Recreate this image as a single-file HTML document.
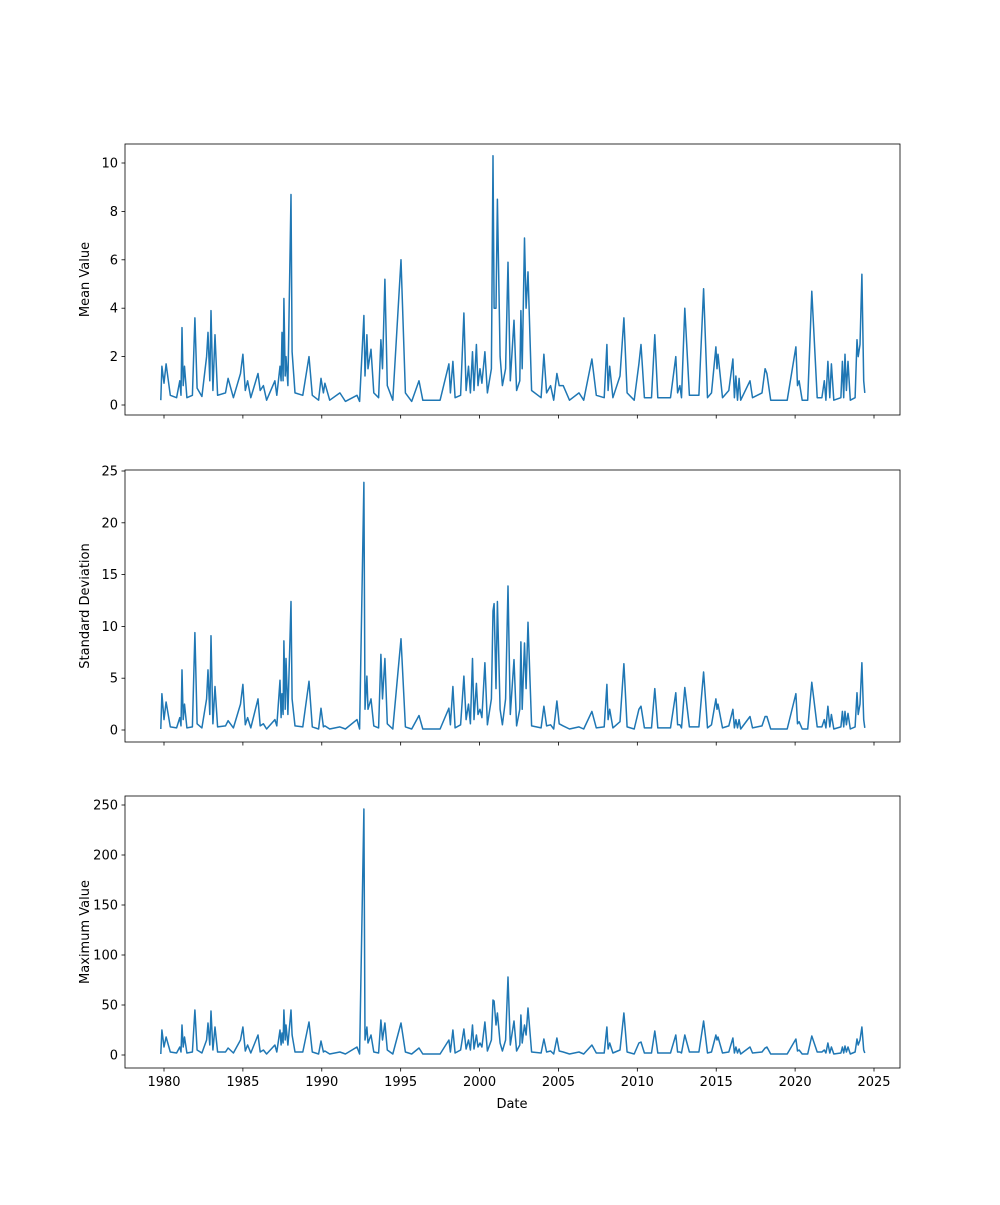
<!DOCTYPE html>
<html><head><meta charset="utf-8"><style>
body{margin:0;background:#fff;}
svg text{font-family:"DejaVu Sans","Liberation Sans",sans-serif;font-size:13px;fill:#000;}
</style></head><body>
<svg id="fig" width="1000" height="1200" xmlns="http://www.w3.org/2000/svg"></svg>
<script>
const dates=[1979.8,1979.87,1980.0,1980.13,1980.4,1980.8,1981.0,1981.08,1981.14,1981.22,1981.3,1981.45,1981.8,1981.96,1982.1,1982.4,1982.7,1982.79,1982.9,1982.98,1983.1,1983.23,1983.4,1983.9,1984.06,1984.4,1984.85,1985.0,1985.15,1985.3,1985.5,1985.96,1986.1,1986.3,1986.5,1987.03,1987.15,1987.35,1987.42,1987.48,1987.55,1987.6,1987.68,1987.73,1987.85,1988.05,1988.12,1988.3,1988.8,1989.19,1989.4,1989.8,1989.95,1990.1,1990.2,1990.5,1991.15,1991.5,1992.23,1992.4,1992.67,1992.74,1992.86,1992.93,1993.12,1993.3,1993.6,1993.75,1993.85,1994.0,1994.15,1994.5,1995.02,1995.3,1995.7,1996.16,1996.4,1997.5,1998.06,1998.15,1998.31,1998.45,1998.8,1999.01,1999.15,1999.3,1999.42,1999.55,1999.65,1999.8,1999.9,2000.03,2000.15,2000.34,2000.5,2000.75,2000.85,2000.92,2001.04,2001.13,2001.3,2001.45,2001.65,2001.8,2001.95,2002.18,2002.35,2002.55,2002.62,2002.7,2002.85,2002.95,2003.07,2003.3,2003.9,2004.08,2004.25,2004.5,2004.7,2004.9,2005.05,2005.3,2005.7,2006.3,2006.6,2007.12,2007.4,2007.9,2008.07,2008.15,2008.25,2008.45,2008.9,2009.15,2009.35,2009.8,2010.1,2010.23,2010.45,2010.9,2011.11,2011.3,2012.1,2012.44,2012.55,2012.7,2012.8,2013.01,2013.3,2013.9,2014.2,2014.45,2014.7,2014.98,2015.05,2015.11,2015.4,2015.8,2016.06,2016.15,2016.25,2016.35,2016.45,2016.55,2017.14,2017.3,2017.9,2018.1,2018.21,2018.45,2019.5,2020.05,2020.15,2020.25,2020.45,2020.8,2021.06,2021.4,2021.7,2021.85,2021.95,2022.08,2022.2,2022.3,2022.45,2022.9,2023.0,2023.08,2023.16,2023.25,2023.35,2023.5,2023.8,2023.92,2024.0,2024.11,2024.23,2024.35,2024.42];
const meanVals=[.2,1.6,.9,1.7,.4,.3,1.0,.4,3.2,.8,1.6,.3,.4,3.6,.7,.35,2.0,3.0,1.0,3.9,.6,2.9,.4,.5,1.1,.3,1.3,2.1,.6,1.0,.3,1.3,.6,.8,.2,1.0,.4,1.6,1.0,3.0,1.0,4.4,1.2,2.0,.8,8.7,2.2,.5,.4,2.0,.4,.2,1.1,.5,.9,.2,.5,.15,.4,.15,3.7,1.2,2.9,1.5,2.3,.5,.3,2.7,1.5,5.2,.8,.2,6.0,.5,.15,1.0,.2,.2,1.7,.5,1.8,.3,.4,3.8,.6,1.6,.5,2.2,.6,2.5,.8,1.5,.9,2.2,.5,1.5,10.3,4.0,4.0,8.5,2.0,.8,1.5,5.9,1.0,3.5,.6,1.0,3.9,1.5,6.9,4.0,5.5,.6,.3,2.1,.5,.8,.2,1.3,.8,.8,.2,.5,.2,1.9,.4,.3,2.5,.6,1.6,.3,1.2,3.6,.5,.2,1.7,2.5,.3,.3,2.9,.3,.3,2.0,.5,.8,.3,4.0,.4,.4,4.8,.3,.5,2.4,1.5,2.1,.3,.6,1.9,.3,1.2,.2,1.1,.2,1.0,.3,.5,1.5,1.3,.2,.2,2.4,.8,1.0,.2,.2,4.7,.3,.3,1.0,.2,1.8,.3,1.7,.2,.3,1.8,.3,2.1,.6,1.8,.2,.3,2.7,2.0,2.5,5.4,1.0,.5];
const stdVals=[.1,3.5,1.0,2.7,.3,.2,1.2,.4,5.8,1.0,2.5,.2,.3,9.4,.6,.2,3.0,5.8,1.5,9.1,.6,4.2,.3,.4,.9,.2,2.5,4.4,.5,1.2,.2,3.0,.4,.6,.1,1.0,.4,4.8,1.2,3.5,1.5,8.6,2.0,6.9,1.5,12.4,3.0,.4,.3,4.7,.3,.1,2.1,.3,.4,.1,.3,.1,1.0,.1,23.9,2.0,5.2,2.0,3.0,.4,.2,7.3,3.0,6.9,.6,.1,8.8,.3,.1,1.4,.1,.1,2.1,.5,4.2,.2,.5,5.2,1.0,2.5,.6,6.9,1.0,4.5,1.5,2.0,1.2,6.5,.5,3.0,11.5,12.2,4.0,12.4,2.0,.5,3.0,13.9,1.5,6.8,.4,2.0,8.5,2.0,8.4,4.0,10.4,.4,.2,2.3,.4,.5,.1,2.8,.6,.4,.1,.3,.1,1.8,.2,.3,4.4,1.0,2.0,.2,.8,6.4,.3,.1,2.0,2.3,.2,.2,4.0,.2,.2,3.6,.5,.5,.2,4.1,.3,.3,5.6,.2,.5,3.0,2.0,2.5,.2,.4,2.0,.2,1.0,.2,1.0,.1,1.3,.2,.4,1.3,1.3,.1,.1,3.5,.6,.8,.1,.1,4.6,.3,.3,1.0,.2,2.3,.3,1.5,.1,.3,1.8,.3,1.8,.5,1.6,.1,.3,3.6,1.5,2.5,6.5,1.0,.2];
const maxVals=[1,25,8,18,3,2,8,3,30,8,18,2,3,45,5,2,15,32,10,44,5,28,3,3,7,2,15,28,4,10,2,20,3,5,1,10,3,25,10,22,12,45,15,30,10,45,20,3,3,33,3,1,14,3,4,1,3,1,8,1,246,15,28,12,20,3,2,35,15,32,5,1,32,3,1,7,1,1,15,3,25,2,5,26,6,15,5,30,6,20,8,12,8,33,4,15,55,54,30,42,12,4,15,78,10,34,4,10,40,12,30,20,47,3,2,16,3,4,1,17,4,3,1,3,1,10,2,2,28,6,12,2,5,42,3,1,12,13,2,2,24,2,2,20,3,3,2,20,3,3,34,2,3,20,15,18,2,3,17,2,8,2,6,1,8,2,3,7,8,1,1,16,4,5,1,1,19,3,3,5,2,12,2,8,1,2,8,2,9,3,8,1,3,16,10,15,28,5,2];
const xTicks=[1980,1985,1990,1995,2000,2005,2010,2015,2020,2025];
const yTicksMean=[0,2,4,6,8,10];
const yTicksStd=[0,5,10,15,20,25];
const yTicksMax=[0,50,100,150,200,250];

const NS="http://www.w3.org/2000/svg";
const svg=document.getElementById('fig');
const L=125,R=900;
function xs(y){return 164+(y-1980)*(710/45);}
function mk(t,a,p){const e=document.createElementNS(NS,t);for(const k in a)e.setAttribute(k,a[k]);(p||svg).appendChild(e);return e;}
const panels=[
 {top:144,bot:415,v0:405,v1:163,t1:10,vals:meanVals,ticks:yTicksMean,label:"Mean Value",name:"mean"},
 {top:470,bot:742,v0:730,v1:471,t1:25,vals:stdVals,ticks:yTicksStd,label:"Standard Deviation",name:"std"},
 {top:796,bot:1068,v0:1055,v1:805,t1:250,vals:maxVals,ticks:yTicksMax,label:"Maximum Value",name:"max"}
];
panels.forEach((p,i)=>{
 const g=mk('g',{});
 
 
 const ys=v=>p.v0+(p.v1-p.v0)*v/p.t1;
 let d='';
 dates.forEach((dt,j)=>{d+=(j?'L':'M')+xs(dt).toFixed(1)+','+ys(p.vals[j]).toFixed(1);});
 const ln=mk('path',{d:d,fill:'none',stroke:'#1f77b4','stroke-width':1.5,'stroke-linejoin':'round'},g);
 
 
 const fr=mk('rect',{x:L,y:p.top,width:R-L,height:p.bot-p.top,fill:'none',stroke:'#000','stroke-width':0.8},g);
 
 
 p.ticks.forEach(t=>{
  const y=ys(t);
  mk('line',{x1:L-3.5,x2:L,y1:y,y2:y,stroke:'#000','stroke-width':0.8},g);
  const tx=mk('text',{x:L-7,y:y+4.5,'text-anchor':'end'},g);
  tx.textContent=t;
  
  
 });
 xTicks.forEach(t=>{
  const x=xs(t);
  mk('line',{x1:x,x2:x,y1:p.bot,y2:p.bot+3.5,stroke:'#000','stroke-width':0.8},g);
  if(i===2){
   const tx=mk('text',{x:x,y:p.bot+18,'text-anchor':'middle'},g);
   tx.textContent=t;
   
   
  }
 });
 const cy=(p.top+p.bot)/2;
 const yl=mk('text',{x:0,y:0,'text-anchor':'middle',transform:'translate(89,'+cy+') rotate(-90)'},g);
 yl.textContent=p.label;
 
 
});
const xl=mk('text',{x:512,y:1108,'text-anchor':'middle'});
xl.textContent='Date';


</script>
</body></html>
